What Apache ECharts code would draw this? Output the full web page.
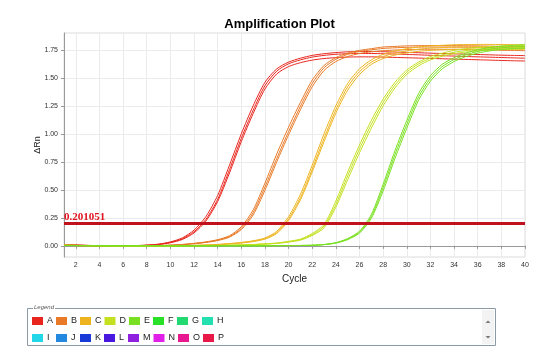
<!DOCTYPE html>
<html>
<head>
<meta charset="utf-8">
<script src="https://cdn.jsdelivr.net/npm/echarts@6/dist/echarts.min.js"></script>
<style>
html,body{margin:0;padding:0;background:#fff;}
#main{width:559px;height:350px;}
</style>
</head>
<body>
<div id="main"></div>
<script>
// cycle numbers (x)
var cycles = [1,2,3,4,5,6,7,8,9,10,11,12,13,14,15,16,17,18,19,20,21,22,23,24,25,26,27,28,29,30,31,32,33,34,35,36,37,38,39,40];
var xTicks = [2,4,6,8,10,12,14,16,18,20,22,24,26,28,30,32,34,36,38,40];
var yTicks = [0,0.25,0.5,0.75,1,1.25,1.5,1.75];
var threshold = 0.201051;

// delta Rn per well (3 replicates per sample)
var wellA1 = [0.012,0.008,0.004,0.001,0,0,0.002,0.006,0.015,0.035,0.07,0.14,0.26,0.45,0.72,1.0,1.25,1.46,1.58,1.64,
              1.675,1.7,1.715,1.725,1.732,1.735,1.735,1.733,1.73,1.727,1.724,1.72,1.717,1.714,1.711,1.708,1.705,1.702,1.70,1.698];
var wellA2 = [0.01,0.006,0.003,0.001,0,0,0.001,0.005,0.013,0.03,0.062,0.125,0.235,0.415,0.68,0.96,1.21,1.43,1.56,1.625,
              1.66,1.685,1.7,1.71,1.715,1.717,1.717,1.715,1.712,1.709,1.705,1.701,1.697,1.694,1.69,1.687,1.684,1.681,1.678,1.675];
var wellA3 = [0.008,0.005,0.002,0,0,0,0.001,0.004,0.011,0.027,0.056,0.115,0.22,0.395,0.65,0.93,1.18,1.40,1.535,1.60,
              1.635,1.658,1.672,1.68,1.685,1.687,1.687,1.685,1.682,1.679,1.676,1.673,1.67,1.667,1.664,1.661,1.658,1.655,1.652,1.65];
var wellB1 = [0.005,0.003,0.002,0.001,0,0,0,0.001,0.003,0.006,0.012,0.022,0.035,0.055,0.09,0.17,0.32,0.56,0.82,1.06,
              1.28,1.48,1.61,1.68,1.72,1.745,1.76,1.775,1.78,1.785,1.787,1.788,1.788,1.787,1.786,1.785,1.783,1.781,1.779,1.777];
var wellB2 = [0.004,0.002,0.001,0,0,0,0,0.001,0.002,0.005,0.011,0.02,0.032,0.05,0.083,0.155,0.295,0.525,0.78,1.02,
              1.245,1.45,1.59,1.665,1.71,1.735,1.75,1.762,1.768,1.772,1.774,1.775,1.775,1.774,1.773,1.771,1.769,1.767,1.765,1.763];
var wellB3 = [0.004,0.002,0.001,0,0,0,0,0.001,0.002,0.004,0.01,0.018,0.03,0.047,0.077,0.145,0.275,0.495,0.75,0.99,
              1.215,1.42,1.565,1.645,1.69,1.717,1.732,1.742,1.748,1.752,1.754,1.755,1.755,1.754,1.752,1.75,1.748,1.746,1.744,1.742];
var wellC1 = [0.005,0.003,0.002,0.001,0,0,0,0,0,0.001,0.002,0.004,0.007,0.012,0.02,0.03,0.045,0.07,0.13,0.26,
              0.46,0.72,1.0,1.25,1.45,1.58,1.66,1.71,1.74,1.76,1.775,1.785,1.79,1.795,1.797,1.798,1.798,1.797,1.796,1.795];
var wellC2 = [0.004,0.002,0.001,0,0,0,0,0,0,0.001,0.002,0.003,0.006,0.011,0.018,0.027,0.041,0.064,0.118,0.24,
              0.43,0.685,0.96,1.215,1.42,1.555,1.64,1.69,1.72,1.74,1.755,1.765,1.77,1.775,1.777,1.778,1.778,1.777,1.776,1.775];
var wellC3 = [0.004,0.002,0.001,0,0,0,0,0,0,0.001,0.002,0.003,0.005,0.01,0.016,0.025,0.038,0.06,0.11,0.225,
              0.41,0.66,0.93,1.185,1.39,1.53,1.62,1.672,1.703,1.722,1.736,1.745,1.75,1.754,1.756,1.757,1.757,1.756,1.755,1.754];
var wellD1 = [0.005,0.004,0.003,0.002,0.001,0,0,0,0,0,0,0,0.001,0.002,0.005,0.008,0.012,0.018,0.025,0.04,
              0.06,0.11,0.19,0.40,0.66,0.90,1.12,1.31,1.46,1.57,1.64,1.69,1.72,1.745,1.76,1.77,1.777,1.782,1.786,1.789];
var wellD2 = [0.004,0.003,0.002,0.001,0,0,0,0,0,0,0,0,0.001,0.002,0.004,0.007,0.011,0.016,0.023,0.036,
              0.055,0.10,0.175,0.37,0.625,0.865,1.085,1.28,1.435,1.55,1.625,1.675,1.705,1.728,1.743,1.753,1.76,1.765,1.769,1.772];
var wellD3 = [0.004,0.003,0.002,0.001,0,0,0,0,0,0,0,0,0.001,0.002,0.004,0.006,0.01,0.015,0.021,0.033,
              0.05,0.092,0.16,0.345,0.59,0.83,1.05,1.25,1.41,1.53,1.607,1.66,1.692,1.715,1.73,1.74,1.747,1.752,1.756,1.759];
var wellE1 = [0.003,0.002,0.001,0,0,0,0,0,0,0,0,0,0,0,0,0,0,0,0.001,0.002,
              0.003,0.005,0.012,0.028,0.065,0.13,0.28,0.55,0.85,1.12,1.36,1.52,1.62,1.68,1.72,1.75,1.77,1.782,1.79,1.795];
var wellE2 = [0.003,0.002,0.001,0,0,0,0,0,0,0,0,0,0,0,0,0,0,0,0.001,0.002,
              0.003,0.005,0.011,0.026,0.06,0.122,0.262,0.52,0.815,1.085,1.33,1.495,1.6,1.663,1.705,1.735,1.755,1.768,1.776,1.781];
var wellE3 = [0.002,0.001,0,0,0,0,0,0,0,0,0,0,0,0,0,0,0,0,0.001,0.002,
              0.003,0.004,0.01,0.024,0.055,0.113,0.245,0.49,0.78,1.05,1.30,1.47,1.58,1.645,1.69,1.72,1.74,1.753,1.761,1.766];

var sampleNames = ['A','B','C','D','E','F','G','H','I','J','K','L','M','N','O','P'];
var sampleColors = ['#e8261e','#e87a28','#eeb420','#c4e020','#78e020','#28e028','#22d870','#22e0b0',
                    '#22d8e8','#2288e0','#1a3ad8','#4818e0','#9020e0','#e020e8','#e81890','#e81848'];
var sampleWells = {
    A:[wellA1,wellA2,wellA3],
    B:[wellB1,wellB2,wellB3],
    C:[wellC1,wellC2,wellC3],
    D:[wellD1,wellD2,wellD3],
    E:[wellE1,wellE2,wellE3]
};

var series = [];
sampleNames.forEach(function(name, k){
    var wells = sampleWells[name] || [[]];
    wells.forEach(function(vals){
        series.push({
            name: name,
            type: 'line',
            showSymbol: false,
            smooth: 0.25,
            silent: true,
            color: sampleColors[k],
            lineStyle: {width: 1, color: sampleColors[k]},
            data: vals.map(function(v, i){ return [cycles[i], v]; })
        });
    });
});
// threshold line
series[0].markLine = {
    silent: true,
    symbol: 'none',
    z: 10,
    lineStyle: {color: '#c0121c', width: 3, type: 'solid'},
    label: {
        position: 'insideStartTop',
        formatter: '0.201051',
        color: '#e0101c',
        fontFamily: 'Liberation Serif',
        fontWeight: 'bold',
        fontSize: 11,
        distance: [0, 1]
    },
    data: [{yAxis: threshold}]
};

var chart = echarts.init(document.getElementById('main'));
var option = {
    animation: false,
    title: {
        text: 'Amplification Plot',
        left: 'center',
        top: 13,
        textStyle: {fontFamily: 'Liberation Sans', fontSize: 13, fontWeight: 'bold', color: '#000'}
    },
    grid: {
        left: 64, right: 34, top: 33, bottom: 93,
        show: true, borderColor: '#dcdcdc', borderWidth: 1
    },
    legend: {
        left: 27, top: 309, width: 205,
        itemWidth: 11, itemHeight: 8, itemGap: 3,
        icon: 'rect',
        selectedMode: false,
        data: sampleNames,
        textStyle: {fontSize: 9, color: '#222', width: 6, lineHeight: 14, padding: [0,0,0,-1]}
    },
    xAxis: {
        type: 'value', min: 1, max: 40,
        name: 'Cycle', nameLocation: 'middle', nameGap: 11,
        nameTextStyle: {fontSize: 10, color: '#222'},
        axisLine: {lineStyle: {color: '#999'}},
        axisTick: {show: true, length: 3, lineStyle: {color: '#999'}, customValues: xTicks},
        axisLabel: {fontSize: 7, color: '#333', margin: 5, customValues: xTicks},
        splitLine: {show: true, lineStyle: {color: '#ebebeb'}}
    },
    yAxis: {
        type: 'value', min: -0.1, max: 1.9,
        name: 'ΔRn', nameLocation: 'middle', nameGap: 22, nameMoveOverlap: false,
        nameTextStyle: {fontSize: 9, color: '#222'},
        axisLine: {show: true, lineStyle: {color: '#999'}},
        axisTick: {show: true, length: 3, lineStyle: {color: '#999'}, customValues: yTicks},
        axisLabel: {fontSize: 7, color: '#333', margin: 6, customValues: yTicks,
            formatter: function(v){ return v.toFixed(2); }},
        splitLine: {show: true, lineStyle: {color: '#ebebeb'}}
    },
    graphic: [
        {type: 'rect', shape: {x: 27.5, y: 308.5, width: 468, height: 37},
         style: {fill: 'none', stroke: '#8c9aa8', lineWidth: 1}, z: -1},
        {type: 'rect', shape: {x: 482, y: 310, width: 12, height: 34},
         style: {fill: '#f3f3f3'}},
        {type: 'polygon', shape: {points: [[485.5,323],[488,320.5],[490.5,323]]},
         style: {fill: '#777'}},
        {type: 'polygon', shape: {points: [[485.5,336],[488,338.5],[490.5,336]]},
         style: {fill: '#777'}},
        {type: 'text', left: 33, top: 304,
         style: {text: 'Legend', fontSize: 6, fontStyle: 'italic', fill: '#555',
                 backgroundColor: '#fff', padding: [0, 1]}}
    ],
    series: series
};
chart.setOption(option);
</script>
</body>
</html>
